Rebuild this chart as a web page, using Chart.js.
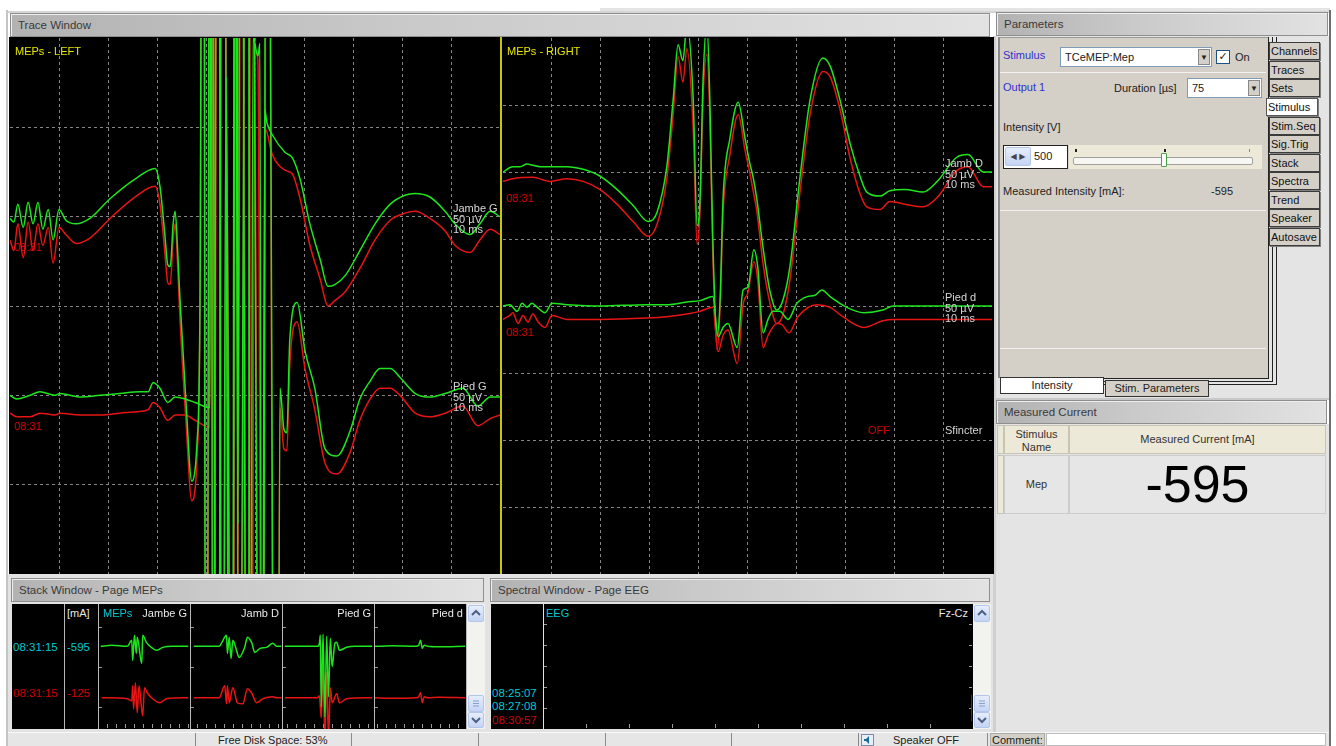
<!DOCTYPE html>
<html>
<head>
<meta charset="utf-8">
<script src="https://cdn.jsdelivr.net/npm/chart.js@4.4.0/dist/chart.umd.min.js"></script>
<style>
  html, body { margin:0; padding:0; }
  body { width:1336px; height:746px; overflow:hidden; position:relative; background:#ffffff;
         font-family:"Liberation Sans", Arial, sans-serif; font-size:11px; color:#222; }
  .a { position:absolute; box-sizing:border-box; }
  .title { position:absolute; box-sizing:border-box; height:24px; border:1px solid #8e8e8e;
           background:linear-gradient(to right,#b2b2b2,#c9c9c9 40%,#e2e2e2);
           box-shadow:inset 1px 1px 0 #eeeeee; color:#3a3a3a; font-size:11.5px; line-height:22px; padding-left:7px; }
  .black { position:absolute; background:#000; overflow:hidden; }
  .lbl { position:absolute; white-space:nowrap; line-height:10.5px; font-size:11px; color:#d6d6d6; }
  .ui { position:absolute; white-space:nowrap; font-size:11px; line-height:13px; }
  .tab { position:absolute; box-sizing:border-box; width:51px; height:18px; left:1269px; border:1px solid #3c3c3c;
         background:#d4d0c8; font-size:11px; line-height:16px; padding-left:1px; color:#111; box-shadow:1px 1px 0 #808080; }
  .btnxp { position:absolute; box-sizing:border-box; border:1px solid #b4c6ea; border-radius:2px;
           background:linear-gradient(#e6eefc,#c4d4f4); }
  .tick { position:absolute; background:#9a9a9a; }
  canvas { position:absolute; left:0; top:0; }
</style>
</head>
<body>

<!-- frame pieces -->
<div class="a" style="left:600px;top:8px;width:730px;height:3px;background:#e4e4e4;"></div>
<div class="a" style="left:6px;top:10px;width:2px;height:736px;background:#c4c4c4;"></div>
<div class="a" style="left:8px;top:11px;width:1322px;height:2px;background:#d4d4d4;"></div>
<div class="a" style="left:1329px;top:10px;width:2px;height:736px;background:#6e6e6e;"></div>
<div class="a" style="left:8px;top:574px;width:986px;height:158px;background:#e2e2e2;"></div>
<div class="a" style="left:993px;top:36px;width:3px;height:696px;background:#cfcfcf;"></div>

<!-- Trace window -->
<div class="title" style="left:10px;top:13px;width:980px;">Trace Window</div>
<div class="black" style="left:9px;top:37px;width:985px;height:537px;"></div>
<div class="a" style="left:500px;top:37px;width:2px;height:537px;background:#c8c800;"></div>

<div class="lbl" style="left:14px;top:242px;color:#d00000;">08:31</div>
<div class="lbl" style="left:14px;top:421px;color:#d00000;">08:31</div>
<div class="lbl" style="left:506px;top:193px;color:#d00000;">08:31</div>
<div class="lbl" style="left:506px;top:327px;color:#d00000;">08:31</div>

<div class="black" style="left:10px;top:38px;width:490px;height:536px;background:transparent;">
  <canvas id="leftChart" width="490" height="536"></canvas>
</div>
<div class="black" style="left:503px;top:38px;width:489px;height:536px;background:transparent;">
  <canvas id="rightChart" width="489" height="536"></canvas>
</div>

<div class="lbl" style="left:15px;top:46px;color:#e6e600;">MEPs - LEFT</div>
<div class="lbl" style="left:507px;top:46px;color:#e6e600;">MEPs - RIGHT</div>
<div class="lbl" style="left:453px;top:203px;">Jambe G<br>50 µV<br>10 ms</div>
<div class="lbl" style="left:453px;top:381px;">Pied G<br>50 µV<br>10 ms</div>
<div class="lbl" style="left:945px;top:158px;">Jamb D<br>50 µV<br>10 ms</div>
<div class="lbl" style="left:945px;top:292px;">Pied d<br>50 µV<br>10 ms</div>
<div class="lbl" style="left:945px;top:425px;">Sfincter</div>
<div class="lbl" style="left:868px;top:425px;color:#d00000;">OFF</div>

<!-- Parameters -->
<div class="title" style="left:996px;top:12px;width:332px;">Parameters</div>
<div class="a" style="left:996px;top:36px;width:333px;height:364px;background:#e4e4e4;"></div>
<div class="a" style="left:998px;top:37px;width:270px;height:341px;background:#d4d0c8;border-left:2px solid #8a8a8a;border-top:1px solid #9a9a9a;"></div>
<div class="a" style="left:1000px;top:37px;width:269px;height:342px;border-right:1px solid #222;border-bottom:1px solid #222;"></div>
<div class="a" style="left:1000px;top:37px;width:273px;height:345px;border-right:1px solid #222;border-bottom:1px solid #222;"></div>
<div class="a" style="left:1000px;top:37px;width:277px;height:348px;border-right:1px solid #222;border-bottom:1px solid #222;"></div>
<div class="a" style="left:1000px;top:72px;width:266px;height:1px;background:#f2f2f2;"></div>
<div class="a" style="left:1000px;top:210px;width:266px;height:1px;background:#f2f2f2;"></div>
<div class="a" style="left:1000px;top:348px;width:266px;height:1px;background:#f2f2f2;"></div>

<div class="ui" style="left:1003px;top:49px;color:#3030d0;">Stimulus</div>
<div class="a" style="left:1060px;top:47px;width:152px;height:20px;background:#fff;border:1px solid #7f9db9;"></div>
<div class="ui" style="left:1065px;top:51px;">TCeMEP:Mep</div>
<div class="a" style="left:1198px;top:49px;width:12px;height:16px;background:#d4d0c8;border:1px solid #888;font-size:8px;line-height:15px;text-align:center;">▼</div>
<div class="a" style="left:1216px;top:50px;width:14px;height:14px;background:#fff;border:1px solid #1c5180;font-family:'DejaVu Sans';font-size:11px;line-height:12px;text-align:center;font-weight:bold;">✓</div>
<div class="ui" style="left:1235px;top:51px;">On</div>

<div class="ui" style="left:1003px;top:81px;color:#3030d0;">Output 1</div>
<div class="ui" style="left:1114px;top:82px;">Duration [µs]</div>
<div class="a" style="left:1187px;top:78px;width:75px;height:20px;background:#fff;border:1px solid #7f9db9;"></div>
<div class="ui" style="left:1192px;top:82px;">75</div>
<div class="a" style="left:1248px;top:80px;width:12px;height:16px;background:#d4d0c8;border:1px solid #888;font-size:8px;line-height:15px;text-align:center;">▼</div>

<div class="ui" style="left:1003px;top:121px;">Intensity [V]</div>
<div class="a" style="left:1003px;top:145px;width:65px;height:24px;background:#fff;border:1px solid #222;"></div>
<div class="btnxp" style="left:1005px;top:147px;width:26px;height:19px;font-family:'DejaVu Sans';font-size:8px;line-height:17px;text-align:center;color:#444;">◀ ▶</div>
<div class="ui" style="left:1034px;top:150px;">500</div>
<div class="a" style="left:1069px;top:145px;width:193px;height:24px;background:#ece9d8;"></div>
<div class="a" style="left:1073px;top:157px;width:180px;height:8px;background:#f6f6f3;border:1px solid #a0a0a0;border-radius:2px;"></div>
<div class="a" style="left:1161px;top:153px;width:6px;height:14px;background:#fff;border:1px solid #4aa04a;border-radius:1px;"></div>
<div class="a" style="left:1075px;top:149px;width:2px;height:3px;background:#222;"></div>
<div class="a" style="left:1164px;top:149px;width:2px;height:3px;background:#222;"></div>
<div class="a" style="left:1249px;top:149px;width:1px;height:3px;background:#888;"></div>
<div class="ui" style="left:1003px;top:185px;">Measured Intensity [mA]:</div>
<div class="ui" style="left:1211px;top:185px;">-595</div>

<div class="tab" style="top:42px;">Channels</div>
<div class="tab" style="top:61px;">Traces</div>
<div class="tab" style="top:79px;">Sets</div>
<div class="tab" style="top:98px;left:1266px;width:52px;background:#fff;border-color:#555;">Stimulus</div>
<div class="tab" style="top:117px;">Stim.Seq</div>
<div class="tab" style="top:135px;">Sig.Trig</div>
<div class="tab" style="top:154px;">Stack</div>
<div class="tab" style="top:172px;">Spectra</div>
<div class="tab" style="top:191px;">Trend</div>
<div class="tab" style="top:209px;">Speaker</div>
<div class="tab" style="top:228px;">Autosave</div>

<div class="a" style="left:1000px;top:377px;width:104px;height:17px;background:#fff;border:1px solid #333;font-size:11px;line-height:15px;text-align:center;">Intensity</div>
<div class="a" style="left:1105px;top:380px;width:104px;height:17px;background:#d4d0c8;border:1px solid #333;font-size:11px;line-height:15px;text-align:center;">Stim. Parameters</div>
<div class="a" style="left:996px;top:398px;width:333px;height:2px;background:#c8c8c8;"></div>

<!-- Measured current -->
<div class="title" style="left:996px;top:400px;width:331px;">Measured Current</div>
<div class="a" style="left:996px;top:424px;width:333px;height:308px;background:#e4e4e4;"></div>
<div class="a" style="left:997px;top:425px;width:7px;height:29px;background:#ece9d8;border:1px solid #c8c4b4;"></div>
<div class="a" style="left:1004px;top:425px;width:65px;height:29px;background:#ece9d8;border:1px solid #c8c4b4;text-align:center;line-height:12.5px;padding-top:2px;color:#333;">Stimulus<br>Name</div>
<div class="a" style="left:1069px;top:425px;width:257px;height:29px;background:#ece9d8;border:1px solid #c8c4b4;text-align:center;line-height:27px;color:#333;">Measured Current [mA]</div>
<div class="a" style="left:997px;top:455px;width:7px;height:59px;background:#ece9d8;border:1px solid #c8c4b4;"></div>
<div class="a" style="left:1004px;top:455px;width:65px;height:59px;background:#e6e6e6;border:1px solid #cccccc;text-align:center;line-height:57px;color:#333;">Mep</div>
<div id="bigCurrent" class="a" style="left:1069px;top:455px;width:257px;height:59px;background:#e6e6e6;border:1px solid #cccccc;text-align:center;line-height:57px;font-family:Arial,'Liberation Sans',sans-serif;font-size:52px;color:#000;">-595</div>

<!-- Stack window -->
<div class="title" style="left:11px;top:578px;width:473px;">Stack Window - Page MEPs</div>
<div class="black" style="left:12px;top:604px;width:455px;height:125px;"></div>
<div class="a" style="left:64px;top:604px;width:1px;height:125px;background:#b8b8b8;"></div>
<div class="a" style="left:98px;top:604px;width:1px;height:125px;background:#b8b8b8;"></div>
<div class="a" style="left:190px;top:604px;width:1px;height:125px;background:#b8b8b8;"></div>
<div class="a" style="left:282px;top:604px;width:1px;height:125px;background:#b8b8b8;"></div>
<div class="a" style="left:374px;top:604px;width:1px;height:125px;background:#b8b8b8;"></div>
<div class="a" style="left:466px;top:604px;width:1px;height:125px;background:#b8b8b8;"></div>
<div class="a" style="left:99px;top:724px;width:367px;height:4px;background:repeating-linear-gradient(to right,transparent 0 8px,#9a9a9a 8px 9px);"></div>
<div class="tick" style="left:99px;top:627px;width:3px;height:1px;"></div>
<div class="tick" style="left:99px;top:667px;width:3px;height:1px;"></div>
<div class="tick" style="left:99px;top:707px;width:3px;height:1px;"></div>
<div class="tick" style="left:191px;top:627px;width:3px;height:1px;"></div>
<div class="tick" style="left:191px;top:667px;width:3px;height:1px;"></div>
<div class="tick" style="left:191px;top:707px;width:3px;height:1px;"></div>
<div class="tick" style="left:283px;top:627px;width:3px;height:1px;"></div>
<div class="tick" style="left:283px;top:667px;width:3px;height:1px;"></div>
<div class="tick" style="left:283px;top:707px;width:3px;height:1px;"></div>
<div class="tick" style="left:375px;top:627px;width:3px;height:1px;"></div>
<div class="tick" style="left:375px;top:667px;width:3px;height:1px;"></div>
<div class="tick" style="left:375px;top:707px;width:3px;height:1px;"></div>
<div class="a" style="left:99px;top:604px;width:91px;height:125px;"><canvas id="stack0" width="91" height="125"></canvas></div>
<div class="a" style="left:191px;top:604px;width:91px;height:125px;"><canvas id="stack1" width="91" height="125"></canvas></div>
<div class="a" style="left:283px;top:604px;width:91px;height:125px;"><canvas id="stack2" width="91" height="125"></canvas></div>
<div class="a" style="left:375px;top:604px;width:91px;height:125px;"><canvas id="stack3" width="91" height="125"></canvas></div>
<div class="ui" style="left:67px;top:607px;color:#e8e8e8;">[mA]</div>
<div class="ui" style="left:103px;top:607px;color:#00c8d0;">MEPs</div>
<div class="ui" style="left:140px;top:607px;width:47px;text-align:right;color:#e8e8e8;">Jambe G</div>
<div class="ui" style="left:230px;top:607px;width:49px;text-align:right;color:#e8e8e8;">Jamb D</div>
<div class="ui" style="left:320px;top:607px;width:51px;text-align:right;color:#e8e8e8;">Pied G</div>
<div class="ui" style="left:410px;top:607px;width:53px;text-align:right;color:#e8e8e8;">Pied d</div>
<div class="ui" style="left:13px;top:641px;color:#00c8d0;font-size:11.5px;">08:31:15</div>
<div class="ui" style="left:67px;top:641px;color:#00c8d0;font-size:11.5px;">-595</div>
<div class="ui" style="left:13px;top:687px;color:#d00000;font-size:11.5px;">08:31:15</div>
<div class="ui" style="left:67px;top:687px;color:#d00000;font-size:11.5px;">-125</div>
<div class="a" style="left:467px;top:604px;width:18px;height:125px;background:#f2f2ee;"></div>
<div class="btnxp" style="left:468px;top:605px;width:16px;height:17px;"><svg width="14" height="15"><polyline points="3,9 7,5 11,9" fill="none" stroke="#4d6185" stroke-width="2"/></svg></div>
<div class="btnxp" style="left:468px;top:695px;width:16px;height:17px;"><svg width="14" height="15"><path d="M4 5h6M4 7.5h6M4 10h6" stroke="#8aa0c8" stroke-width="1"/></svg></div>
<div class="btnxp" style="left:468px;top:712px;width:16px;height:16px;"><svg width="14" height="14"><polyline points="3,5 7,9 11,5" fill="none" stroke="#4d6185" stroke-width="2"/></svg></div>

<!-- Spectral window -->
<div class="title" style="left:490px;top:578px;width:500px;">Spectral Window - Page EEG</div>
<div class="black" style="left:491px;top:604px;width:482px;height:125px;"></div>
<div class="a" style="left:543px;top:604px;width:1px;height:125px;background:#e0e0e0;"></div>
<div class="a" style="left:544px;top:724px;width:428px;height:4px;background:repeating-linear-gradient(to right,transparent 0 42px,#9a9a9a 42px 43px);"></div>
<div class="a" style="left:969px;top:604px;width:3px;height:124px;background:repeating-linear-gradient(to bottom,transparent 0 20px,#9a9a9a 20px 21px);"></div>
<div class="a" style="left:544px;top:604px;width:3px;height:124px;background:repeating-linear-gradient(to bottom,transparent 0 20px,#9a9a9a 20px 21px);"></div>
<div class="a" style="left:971px;top:695px;width:1px;height:26px;background:#c00000;"></div>
<div class="ui" style="left:546px;top:607px;color:#00c8d0;">EEG</div>
<div class="ui" style="left:930px;top:607px;width:38px;text-align:right;color:#e8e8e8;">Fz-Cz</div>
<div class="ui" style="left:492px;top:687px;color:#00c8d0;font-size:11.5px;">08:25:07</div>
<div class="ui" style="left:492px;top:700px;color:#00c8d0;font-size:11.5px;">08:27:08</div>
<div class="ui" style="left:492px;top:714px;color:#d00000;font-size:11.5px;">08:30:57</div>
<div class="a" style="left:973px;top:604px;width:18px;height:125px;background:#f2f2ee;"></div>
<div class="btnxp" style="left:974px;top:605px;width:16px;height:17px;"><svg width="14" height="15"><polyline points="3,9 7,5 11,9" fill="none" stroke="#4d6185" stroke-width="2"/></svg></div>
<div class="btnxp" style="left:974px;top:695px;width:16px;height:17px;"><svg width="14" height="15"><path d="M4 5h6M4 7.5h6M4 10h6" stroke="#8aa0c8" stroke-width="1"/></svg></div>
<div class="btnxp" style="left:974px;top:712px;width:16px;height:16px;"><svg width="14" height="14"><polyline points="3,5 7,9 11,5" fill="none" stroke="#4d6185" stroke-width="2"/></svg></div>

<!-- status bar -->
<div class="a" style="left:8px;top:732px;width:1321px;height:14px;background:#e6e6e6;border-top:1px solid #f8f8f8;"></div>
<div class="a" style="left:195px;top:733px;width:1px;height:13px;background:#8a8a8a;"></div>
<div class="a" style="left:351px;top:733px;width:1px;height:13px;background:#8a8a8a;"></div>
<div class="a" style="left:478px;top:733px;width:1px;height:13px;background:#8a8a8a;"></div>
<div class="a" style="left:605px;top:733px;width:1px;height:13px;background:#8a8a8a;"></div>
<div class="a" style="left:731px;top:733px;width:1px;height:13px;background:#8a8a8a;"></div>
<div class="a" style="left:858px;top:733px;width:1px;height:13px;background:#8a8a8a;"></div>
<div class="a" style="left:987px;top:733px;width:1px;height:13px;background:#8a8a8a;"></div>
<div class="ui" style="left:218px;top:734px;color:#222;">Free Disk Space: 53%</div>
<div class="a" style="left:861px;top:734px;width:13px;height:12px;background:#e8eef8;border:1px solid #7a8aa8;">
  <svg width="11" height="10" style="position:absolute;left:0;top:0"><path d="M2 4h2l3-3v8l-3-3H2z" fill="#1a6a9a"/></svg>
</div>
<div class="ui" style="left:893px;top:734px;color:#222;">Speaker OFF</div>
<div class="a" style="left:990px;top:733px;width:55px;height:13px;background:#d4d0c8;border:1px solid #aaa;"></div>
<div class="ui" style="left:992px;top:734px;color:#222;">Comment:</div>
<div class="a" style="left:1046px;top:733px;width:280px;height:13px;background:#fff;border:1px solid #bbb;"></div>

<script>
// Sweep: 0–100 ms, 10 ms/div; sensitivity 50 µV/div.
// Each trace is a list of [time (ms), amplitude (µV)] pairs.
// "live" = current sweep (green), "ref" = 08:31 reference sweep (red).
// The stimulus artefact saturates the amplifier (±500 µV, clipped by the display).

const leftChannels  = ['Jambe G', 'Pied G'];
const rightChannels = ['Jamb D', 'Pied d', 'Sfincter'];
const stackChannels = ['Jambe G', 'Jamb D', 'Pied G', 'Pied d'];
const stackTimes    = ['08:31:15', '08:31:15'];
const stackCurrents = [-595, -125];
const measuredCurrent = -595;

const jambeG_live = [[0,-1],[0.8,-3],[1.6,7],[2.7,-6],[3.7,8],[4.7,-4],[5.7,8],[6.7,-7],[7.8,4],[8.8,-13],[10,4],[11.4,-2],[13.5,-4],[16.3,-1],[20.4,10],[25.5,21],[29.6,27],[30.6,17],[31.6,-10],[32.2,-27],[32.7,-28],[33.3,-4],[33.7,3],[34.3,-24],[34.7,-47],[35.9,-103],[37.1,-148],[38.2,-125],[38.8,-35],[39.4,500],[40.0,-500],[41.0,500],[41.4,-500],[42.4,500],[43.3,-500],[44.1,78],[45.3,-500],[46.2,500],[46.6,-500],[48.6,500],[49.0,-500],[49.6,100],[50.6,90],[51.0,97],[51.4,-500],[52.0,60],[52.4,53],[53.5,46],[56.1,36],[57.6,33],[59.2,21],[61.2,-4],[63.3,-24],[64.9,-39],[66.3,-38],[68.4,-33],[71.4,-19],[74.5,-4],[77.6,7],[80.6,12],[82.7,13],[85.7,11],[88.8,3],[90.8,-4],[93.9,-10],[95.9,-4],[98,3],[100,0]];
const jambeG_ref  = [[0,-13],[0.8,-19],[1.6,-4],[2.7,-23],[3.7,-3],[4.7,-19],[5.7,-4],[6.7,-16],[7.8,-6],[8.8,-26],[10,-6],[11.4,-10],[13.5,-15],[16.3,-12],[20.4,-1],[25.5,11],[29.6,17],[30.6,7],[31.6,-20],[32.2,-37],[32.7,-38],[33.3,-13],[33.7,-4],[34.3,-33],[34.7,-58],[35.9,-114],[37.1,-159],[38.2,-133],[38.8,-41],[39.5,500],[40.1,-500],[41.1,500],[41.5,-500],[42.5,500],[43.4,-500],[44.2,60],[45.4,-500],[46.3,500],[46.7,-500],[48.7,500],[49.1,-500],[50.0,93],[50.6,87],[51.5,-500],[52.1,49],[53.5,35],[56.1,26],[57.6,24],[59.2,10],[61.2,-16],[63.3,-35],[64.9,-50],[66.3,-47],[68.4,-42],[71.4,-29],[74.5,-13],[77.6,-2],[80.6,2],[82.7,3],[85.7,-1],[88.8,-8],[90.8,-16],[93.9,-20],[95.9,-13],[98,-7],[100,-10]];

const piedG_live = [[0,0],[1.4,-2],[4.1,0],[6.1,2],[9.2,0],[10.2,1],[14.3,-1],[18.4,0],[22.4,1],[26.5,2],[28.2,2],[29.2,7],[30.6,4],[32.2,-4],[33.7,-1],[35.7,-2],[37.8,-4],[40.8,-7],[41.0,500],[42.4,-500],[43.3,500],[45.3,-500],[45.9,500],[46.5,-72],[47.1,500],[48.6,-500],[49.0,500],[51.4,-500],[52.4,500],[54.5,-500],[55.1,4],[55.9,-19],[56.5,-21],[57.1,31],[58.6,52],[60.2,25],[62.2,4],[64.3,-30],[66.7,-34],[69.4,-20],[71.4,-2],[73.5,8],[75.5,15],[77.6,15],[79.6,10],[82.7,1],[85.7,-1],[88.8,1],[92.4,4],[95.5,-6],[98,-1],[100,-1]];
const piedG_ref  = [[0,-10],[1.4,-12],[4.1,-12],[6.1,-10],[9.2,-11],[10.2,-10],[14.3,-11],[18.4,-11],[22.4,-10],[26.5,-9],[28.2,-8],[29.2,-4],[30.6,-7],[32.2,-14],[33.7,-11],[35.7,-11],[37.8,-14],[40.8,-18],[41.1,500],[42.5,-500],[43.4,500],[45.4,-500],[46.0,500],[46.6,-84],[47.2,500],[48.7,-500],[49.1,500],[51.5,-500],[52.5,500],[54.3,-500],[55.1,-7],[55.9,-30],[56.5,-31],[57.1,17],[58.6,41],[60.2,15],[62.2,-8],[64.3,-38],[66.7,-44],[69.4,-32],[71.4,-14],[73.5,-2],[75.5,4],[77.6,4],[79.6,0],[82.7,-10],[85.7,-12],[88.8,-10],[92.4,-6],[95.5,-17],[98,-13],[100,-11]];

const jambD_live = [[0,0],[2.0,4],[3.5,4],[4.9,6],[6.1,5],[7.6,4],[9.6,4],[13.1,4],[16.4,2],[19.8,-3],[23.3,-13],[26.6,-25],[29.7,-37],[31.5,-30],[33.5,4],[34.8,54],[35.8,95],[36.8,83],[37.6,110],[38.9,54],[39.7,-40],[40.3,-20],[40.9,67],[41.7,110],[42.3,54],[42.9,-50],[43.8,-122],[44.4,-95],[45.0,-20],[46.4,25],[48.1,52],[49.5,25],[50.5,6],[51.1,-3],[51.9,-20],[53.2,-57],[54.6,-89],[56.0,-103],[57.3,-95],[58.7,-70],[60.7,-5],[62.8,54],[65.4,85],[66.9,79],[68.9,54],[71.0,21],[73.0,-3],[74.4,-15],[77.1,-18],[79.1,-14],[82.2,-13],[85.9,-15],[88.8,-7],[92.8,11],[95.1,13],[98.2,0],[100,0]];
const jambD_ref  = [[0,-7],[2.0,-5],[6.1,-4],[9.6,-7],[13.1,-5],[16.4,-7],[19.8,-13],[23.3,-24],[26.6,-37],[29.7,-48],[31.5,-39],[33.5,-5],[34.8,43],[35.8,86],[36.8,67],[37.6,92],[38.9,32],[39.7,-54],[40.3,-28],[40.9,54],[41.7,88],[42.3,40],[42.9,-61],[43.8,-133],[44.4,-101],[45.0,-31],[46.4,13],[48.1,43],[49.5,16],[50.5,-1],[51.1,-13],[51.9,-29],[53.2,-69],[54.6,-98],[56.0,-113],[57.3,-106],[58.7,-80],[60.7,-16],[62.8,43],[65.4,75],[66.9,71],[68.9,47],[71.0,10],[73.0,-16],[74.4,-26],[77.1,-28],[79.1,-22],[82.2,-24],[85.9,-26],[88.8,-19],[92.8,1],[95.1,4],[98.2,-11],[100,-11]];

const piedD_live = [[0,0],[1.4,1],[2.9,-4],[3.9,2],[4.9,-1],[5.9,2],[7.0,-1],[8.6,-5],[10.0,2],[13.1,1],[19.8,0],[29.4,1],[33.5,1],[37.6,3],[40.3,4],[42.9,7],[44.0,-23],[45.0,-16],[46.0,-13],[47.9,-31],[49.1,12],[50.1,14],[51.3,42],[52.1,29],[53.2,-20],[54.2,-10],[55.2,-4],[56.6,-4],[58.3,-10],[60.1,2],[62.2,7],[63.8,8],[65.2,12],[66.9,7],[70.3,-1],[73.8,-5],[77.7,-3],[79.8,0],[87.9,0],[100,0]];
const piedD_ref  = [[0,-10],[1.4,-7],[2.0,-5],[3.1,-13],[4.1,-7],[5.1,-12],[6.1,-6],[7.2,-12],[8.6,-16],[10.0,-7],[13.1,-10],[19.8,-10],[29.4,-9],[33.5,-8],[37.6,-6],[40.3,-4],[42.9,-1],[44.0,-34],[45.0,-22],[46.0,-18],[47.9,-43],[49.1,1],[50.1,10],[51.3,33],[52.1,19],[53.2,-31],[54.2,-22],[56.0,-13],[57.1,-14],[58.5,-20],[60.3,-8],[64.2,1],[66.9,-1],[69.5,-8],[73.8,-16],[77.7,-11],[79.8,-10],[87.9,-10],[100,-10]];

// Stack window: one compressed sweep per channel (time in % of sweep, amplitude in display units)
const stackJambeG_live = [[2,0],[14,1],[31,0],[36,6],[37,-14],[39,11],[41,-7],[42,9],[47,-17],[48,11],[52,4],[59,-2],[63,-4],[70,-1],[81,0],[98,0]];
const stackJambeG_ref  = [[3,0],[31,-1],[36,-3],[37,12],[38,-11],[40,15],[42,-15],[44,12],[48,-18],[50,10],[53,5],[59,-1],[67,-5],[74,-1],[98,0]];
const stackJambD_live  = [[3,0],[31,0],[34,4],[39,11],[40,-7],[42,9],[44,-12],[46,6],[50,-4],[53,-11],[59,-1],[62,9],[67,3],[70,-6],[76,-2],[83,-1],[90,3],[94,0],[99,0]];
const stackJambD_ref   = [[3,0],[31,0],[37,12],[39,-6],[40,12],[42,-5],[46,10],[51,-5],[57,-6],[62,9],[67,4],[72,-5],[79,-1],[90,1],[94,0],[99,0]];
const stackPiedG_live  = [[2,0],[38,0],[40,3],[41,11],[42,-60],[44,12],[46,-70],[48,10],[50,-50],[52,8],[54,-20],[57,3],[59,4],[62,-4],[70,-1],[79,0],[98,0]];
const stackPiedG_ref   = [[2,0],[38,0],[40,2],[42,-20],[44,30],[46,-40],[48,25],[50,-40],[52,10],[54,-5],[59,4],[62,-5],[70,-1],[98,0]];
const stackPiedD_live  = [[0,0],[20,0.5],[45,0],[48,1],[50,6],[52,-2],[54,1],[58,0],[70,-0.5],[99,0]];
const stackPiedD_ref   = [[0,0],[20,-0.5],[45,0],[48,1],[50,5],[52,-5],[54,1],[58,0],[70,0.5],[99,0]];

// ---- display layout (baselines of each channel on its panel, in µV) ----
const UV_PER_DIV = 50;
const leftLayout  = { yMin: -150, yMax: 150, base: { 'Jambe G': 50, 'Pied G': -50 } };
const rightLayout = { yMin: -200, yMax: 200, base: { 'Jamb D': 100, 'Pied d': 0, 'Sfincter': -100 } };
const stackLayout = { yMin: -62, yMax: 62, liveBase: 20, refBase: -31 };

const GREEN = '#1ee61e';
const RED = '#e81414';
const GRID = '#858585';

document.getElementById('bigCurrent').textContent = String(measuredCurrent);

const toPoints = (arr, base) => arr.map(([t, v]) => ({ x: t, y: base + v }));

function scopeChart(id, datasets, layout, withGrid) {
  const clearEdges = (min, max) => (ctx) => {
    const v = ctx.tick ? ctx.tick.value : null;
    return (v === min || v === max) ? 'rgba(0,0,0,0)' : GRID;
  };
  return new Chart(document.getElementById(id), {
    type: 'line',
    data: { datasets },
    options: {
      responsive: false,
      animation: false,
      devicePixelRatio: 1,
      layout: { padding: 0 },
      plugins: { legend: { display: false }, tooltip: { enabled: false } },
      elements: { point: { radius: 0 }, line: { tension: 0, cubicInterpolationMode: 'monotone' } },
      scales: {
        x: {
          type: 'linear', min: 0, max: 100,
          afterFit: (s) => { s.height = 0; },
          ticks: { display: false, stepSize: 10 },
          grid: { display: withGrid, color: clearEdges(0, 100), drawTicks: false, lineWidth: 1 },
          border: { display: false, dash: [3, 3] }
        },
        y: {
          type: 'linear', min: layout.yMin, max: layout.yMax,
          afterFit: (s) => { s.width = 0; },
          ticks: { display: false, stepSize: UV_PER_DIV },
          grid: { display: withGrid, color: clearEdges(layout.yMin, layout.yMax), drawTicks: false, lineWidth: 1 },
          border: { display: false, dash: [3, 3] }
        }
      }
    }
  });
}

// Chart.js paints dataset 0 last, so the live (green) sweeps are listed first to sit on top.
const line = (arr, base, color, w) => ({ data: toPoints(arr, base), borderColor: color, borderWidth: w, fill: false });

// Trace window – left side
scopeChart('leftChart', [
  line(jambeG_live, leftLayout.base['Jambe G'], GREEN, 1.5),
  line(piedG_live,  leftLayout.base['Pied G'],  GREEN, 1.5),
  line(jambeG_ref,  leftLayout.base['Jambe G'], RED, 1.5),
  line(piedG_ref,   leftLayout.base['Pied G'],  RED, 1.5)
], leftLayout, true);

// Trace window – right side (Sfincter channel is switched off)
scopeChart('rightChart', [
  line(jambD_live, rightLayout.base['Jamb D'], GREEN, 1.5),
  line(piedD_live, rightLayout.base['Pied d'], GREEN, 1.5),
  line(jambD_ref,  rightLayout.base['Jamb D'], RED, 1.5),
  line(piedD_ref,  rightLayout.base['Pied d'], RED, 1.5)
], rightLayout, true);

// Stack window columns
const stackSeries = [
  [stackJambeG_live, stackJambeG_ref],
  [stackJambD_live,  stackJambD_ref],
  [stackPiedG_live,  stackPiedG_ref],
  [stackPiedD_live,  stackPiedD_ref]
];
stackChannels.forEach((name, i) => {
  const [live, ref] = stackSeries[i];
  scopeChart('stack' + i, [
    line(live, stackLayout.liveBase, GREEN, 1.5),
    line(ref,  stackLayout.refBase,  RED, 1.5)
  ], stackLayout, false);
});
</script>
</body>
</html>
